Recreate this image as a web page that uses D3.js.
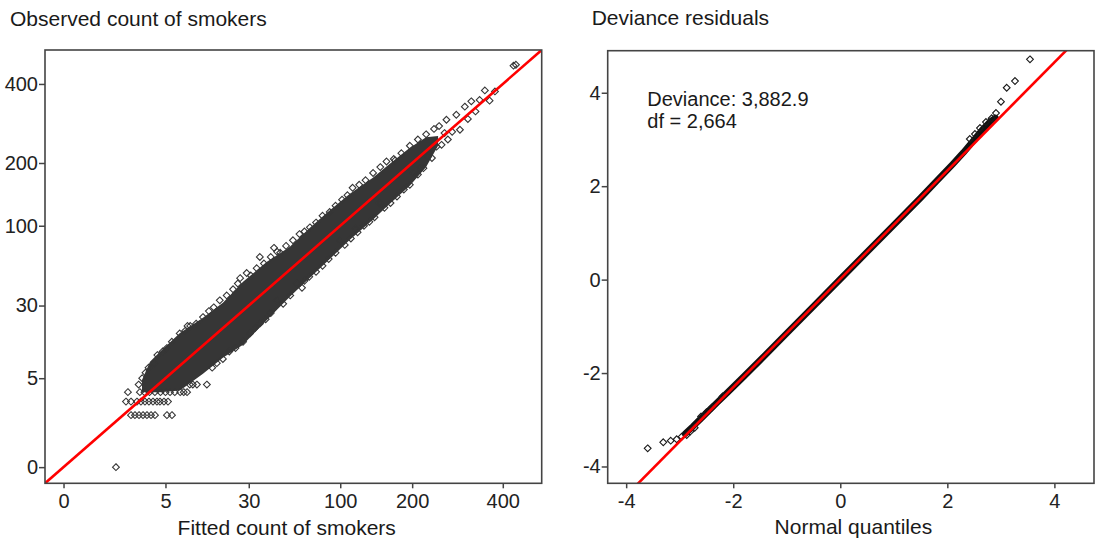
<!DOCTYPE html>
<html>
<head>
<meta charset="utf-8">
<script src="https://cdn.jsdelivr.net/npm/d3@7"></script>
<style>
  body { margin: 0; background: #fff; }
  text { font-family: "Liberation Sans", Arial, sans-serif; fill: #1a1a1a; }
  .tick line { stroke: #444; stroke-width: 1.5; }
  .tick text { font-size: 20px; fill: #222; }
</style>
</head>
<body>
<svg id="chart" width="1098" height="538"></svg>
<script>
// ---- data ----
var countTicks = [0, 5, 30, 100, 200, 400];
var quantTicks = [-4, -2, 0, 2, 4];

// dense core of the fitted/observed cloud (envelope)
var bandFitted = [2.28, 3.05, 4.23, 7.45, 12.8, 19.1, 27.3, 39.7, 54.7, 70.6, 86.2, 110.8, 139.7, 164, 196, 225, 248];
var bandLow    = [3, 3, 3, 3.2, 5.8, 9.3, 13, 22.7, 35.1, 48.2, 61.5, 83.5, 107.6, 129.8, 158.3, 192, 236];
var bandHigh   = [4.7, 8.3, 10.9, 17.2, 23.7, 31.6, 45.3, 61.5, 76, 97.5, 116.9, 145.2, 172.2, 198.4, 231.5, 255, 258];

// single visible points around the cloud
var fittedPts = [
  0.68, 1.26,
  1.15, 1.45, 1.87, 2.19, 2.55, 2.94, 3.38, 3.85, 4.23, 4.78, 5.38,
  1.45, 1.72, 2.03, 2.37, 2.74, 3.16, 3.61, 5.22, 6.02,
  2.1, 2.5, 3.0, 3.6, 4.3, 5.0, 5.7, 6.5, 7.5, 8.2, 8.9,
  2.0, 9.5, 10.2, 11.2, 13.9,
  2.3, 2.6, 2.9, 3.5, 3.9, 4.6, 5.2, 6.0, 7.4, 8.5, 9.6, 11, 12.8,
  14.5, 16, 18, 20.5, 23, 25, 29, 31, 34, 35.7, 38, 42, 46, 48, 52, 57, 62, 66, 70.6, 76, 82, 89, 95, 102, 108, 114, 122, 130, 140, 150, 159, 170, 182, 196, 210, 225, 240,
  15.5, 17, 19.1, 21.5, 24, 27.3, 30.6, 33, 35.7, 39, 42, 45.9, 50, 55, 60, 64, 70, 76, 82, 88, 95, 99.6, 105, 112, 120, 128, 135, 142, 149.4, 156, 165, 175, 186, 196, 201.7, 210, 220, 228.8, 236, 244.9, 255,
  261, 265, 277, 286, 294, 305, 312, 320, 330, 340, 353, 365, 379, 430, 437,
  9, 26, 44, 66, 118, 172, 214, 250, 268
];
var observedPts = [
  0, 3,
  2, 2, 2, 2, 2, 2, 2, 2, 2, 2, 2,
  1, 1, 1, 1, 1, 1, 1, 1, 1,
  3, 3, 3, 3, 3, 3, 3, 3, 3, 3, 3,
  4, 4, 4, 4, 4,
  5, 6, 7, 8, 10, 11, 12, 14, 17, 18, 20, 21, 24,
  27, 29, 33, 36, 40, 44, 52, 50, 56, 66, 60, 66, 71, 70, 77, 83, 90, 93, 98, 104, 113, 118, 127, 136, 143, 155, 160, 168, 181, 192, 203, 208, 220, 236, 250, 262, 275,
  7, 8, 9, 11, 12, 14, 17, 19, 21, 23, 26, 33, 31, 36, 44, 41, 49, 53, 58, 64, 70, 83, 78, 85, 92, 100, 105, 111, 131, 124, 131, 141, 152, 160, 181, 178, 190, 213, 210, 234, 238,
  265, 298, 268, 311, 273, 333, 300, 348, 320, 352, 380, 350, 377, 460, 463,
  20, 48, 75, 46, 96, 205, 190, 282, 250
];

// normal QQ plot of deviance residuals
var qqCoreQ = [-2.90, -2.75, -2.60, -2.45, -2.30, -2.10, -1.80, -1.50, -1.00, -0.50, 0, 0.50, 1.00, 1.50, 1.80, 2.10, 2.30, 2.50, 2.65, 2.80, 2.90];
var qqCoreR = [-3.30, -3.14, -2.97, -2.80, -2.63, -2.41, -2.07, -1.73, -1.15, -0.57, 0.01, 0.59, 1.17, 1.75, 2.11, 2.47, 2.72, 2.99, 3.20, 3.38, 3.46];
var qqTailQ = [-3.598, -3.307, -3.168, -3.056, -2.963, -2.869, -2.80, -2.72, -2.6, -2.5, -2.4, -2.2, 2.42, 2.516, 2.61, 2.722, 2.828, 2.909, 3.002, 3.109, 3.264, 3.544];
var qqTailR = [-3.611, -3.482, -3.448, -3.418, -3.363, -3.326, -3.25, -3.17, -2.93, -2.84, -2.74, -2.50, 3.01, 3.116, 3.245, 3.373, 3.453, 3.566, 3.808, 4.107, 4.251, 4.715];
var qqIntercept = 0.014;
var qqSlope = 1.159;

var devianceText = "Deviance: 3,882.9";
var dfText = "df = 2,664";

// ---- drawing ----
var svg = d3.select("#chart");
var dark = "#363636";

function diamond(r) {
  return "M0," + (-r) + "L" + r + ",0L0," + r + "L" + (-r) + ",0Z";
}

// plain hyphen minus like the original
function plain(d) { return String(d); }

// left panel: cube-root scales
var xL = d3.scalePow().exponent(1 / 3).domain([-0.03, 516]).range([45, 541.7]);
var yL = d3.scalePow().exponent(1 / 3).domain([-0.03, 516]).range([483.3, 50]);

// right panel
var xR = d3.scaleLinear().domain([-4.345, 4.74]).range([607.7, 1094]);
var yR = d3.scaleLinear().domain([-4.36, 4.9]).range([483.3, 50.7]);

var defs = svg.append("defs");
defs.append("clipPath").attr("id", "clipL").append("rect")
  .attr("x", 45).attr("y", 50).attr("width", 541.7 - 45).attr("height", 483.3 - 50);
defs.append("clipPath").attr("id", "clipR").append("rect")
  .attr("x", 607.7).attr("y", 50.7).attr("width", 1094 - 607.7).attr("height", 483.3 - 50.7);

// --- left ---
var gL = svg.append("g").attr("clip-path", "url(#clipL)");

var band = bandFitted.map(function(f, i) { return { f: f, lo: bandLow[i], hi: bandHigh[i] }; });
gL.append("path")
  .datum(band)
  .attr("fill", dark)
  .attr("d", d3.area()
    .x(function(d) { return xL(d.f); })
    .y0(function(d) { return yL(d.lo); })
    .y1(function(d) { return yL(d.hi); }));

var pts = fittedPts.map(function(f, i) { return { f: f, o: observedPts[i] }; });
gL.selectAll(".pt")
  .data(pts)
  .enter().append("path")
  .attr("class", "pt")
  .attr("d", diamond(3.4))
  .attr("transform", function(d) { return "translate(" + xL(d.f) + "," + yL(d.o) + ")"; })
  .attr("fill", "none")
  .attr("stroke", dark)
  .attr("stroke-width", 1.1);

gL.append("line")
  .attr("x1", xL(-0.03)).attr("y1", yL(-0.03))
  .attr("x2", xL(516)).attr("y2", yL(516))
  .attr("stroke", "#ff0000").attr("stroke-width", 2.6);

// --- right ---
var gR = svg.append("g").attr("clip-path", "url(#clipR)");

var core = qqCoreQ.map(function(q, i) { return [q, qqCoreR[i]]; });
gR.append("path")
  .datum(core)
  .attr("fill", "none")
  .attr("stroke", "#111")
  .attr("stroke-width", 6.5)
  .attr("stroke-linejoin", "round")
  .attr("stroke-linecap", "round")
  .attr("d", d3.line().x(function(d) { return xR(d[0]); }).y(function(d) { return yR(d[1]); }));

var tails = qqTailQ.map(function(q, i) { return [q, qqTailR[i]]; });
gR.selectAll(".qq")
  .data(tails)
  .enter().append("path")
  .attr("class", "qq")
  .attr("d", diamond(3.4))
  .attr("transform", function(d) { return "translate(" + xR(d[0]) + "," + yR(d[1]) + ")"; })
  .attr("fill", "none")
  .attr("stroke", "#1a1a1a")
  .attr("stroke-width", 1.1);

var qx = xR.domain();
gR.append("line")
  .attr("x1", xR(qx[0])).attr("y1", yR(qqIntercept + qqSlope * qx[0]))
  .attr("x2", xR(qx[1])).attr("y2", yR(qqIntercept + qqSlope * qx[1]))
  .attr("stroke", "#ff0000").attr("stroke-width", 2.6);

// --- axes and frames ---
function axis(g, gen) {
  g.call(gen);
  g.select(".domain").remove();
}

axis(svg.append("g").attr("transform", "translate(0,483.3)"),
  d3.axisBottom(xL).tickValues(countTicks).tickSize(5).tickPadding(6).tickFormat(plain));
axis(svg.append("g").attr("transform", "translate(45,0)"),
  d3.axisLeft(yL).tickValues(countTicks).tickSize(6).tickPadding(1).tickFormat(plain));
axis(svg.append("g").attr("transform", "translate(0,483.3)"),
  d3.axisBottom(xR).tickValues(quantTicks).tickSize(5).tickPadding(6).tickFormat(plain));
axis(svg.append("g").attr("transform", "translate(607.7,0)"),
  d3.axisLeft(yR).tickValues(quantTicks).tickSize(6).tickPadding(1).tickFormat(plain));

svg.selectAll(".tick text").attr("font-family", null);

svg.append("rect").attr("x", 45).attr("y", 50).attr("width", 541.7 - 45).attr("height", 483.3 - 50)
  .attr("fill", "none").attr("stroke", "#444").attr("stroke-width", 1.6);
svg.append("rect").attr("x", 607.7).attr("y", 50.7).attr("width", 1094 - 607.7).attr("height", 483.3 - 50.7)
  .attr("fill", "none").attr("stroke", "#444").attr("stroke-width", 1.6);

// --- titles and labels ---
svg.append("text").attr("x", 10).attr("y", 26).attr("font-size", 21).text("Observed count of smokers");
svg.append("text").attr("x", 591.7).attr("y", 25).attr("font-size", 21).text("Deviance residuals");
svg.append("text").attr("x", 286.7).attr("y", 535).attr("font-size", 21).attr("text-anchor", "middle").text("Fitted count of smokers");
svg.append("text").attr("x", 853.4).attr("y", 534).attr("font-size", 21).attr("text-anchor", "middle").text("Normal quantiles");
svg.append("text").attr("x", 647.3).attr("y", 106).attr("font-size", 20).text(devianceText);
svg.append("text").attr("x", 647.3).attr("y", 128.3).attr("font-size", 20).text(dfText);
</script>
</body>
</html>
